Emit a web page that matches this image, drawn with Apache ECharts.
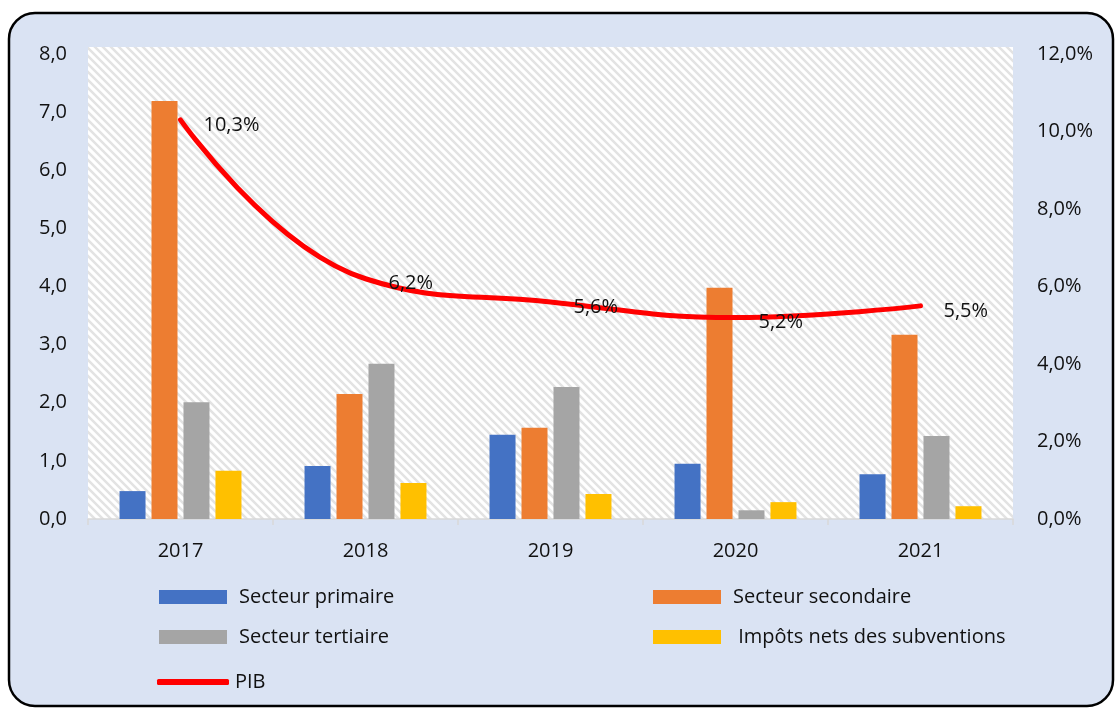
<!DOCTYPE html>
<html>
<head>
<meta charset="utf-8">
<script src="https://cdn.jsdelivr.net/npm/echarts@6/dist/echarts.min.js"></script>
<style>
html,body{margin:0;padding:0;background:#fff;}
#main{width:1116px;height:709px;}
</style>
</head>
<body>
<div id="main"></div>
<script>
var annees = ['2017', '2018', '2019', '2020', '2021'];
var primaire = [0.48, 0.91, 1.45, 0.95, 0.77];
var secondaire = [7.19, 2.15, 1.57, 3.98, 3.17];
var tertiaire = [2.01, 2.67, 2.27, 0.15, 1.43];
var impots = [0.83, 0.62, 0.43, 0.29, 0.22];
var pib = [10.3, 6.2, 5.6, 5.2, 5.5];

var police = '"Open Sans", "Noto Sans", sans-serif';

// motif hachuré du fond de la zone de tracé
var cv = document.createElement('canvas');
cv.width = 8; cv.height = 8;
var cx = cv.getContext('2d');
cx.fillStyle = '#ffffff';
cx.fillRect(0, 0, 8, 8);
cx.strokeStyle = '#e3e3e3';
cx.lineWidth = 2.5;
cx.beginPath();
cx.moveTo(-2, -2); cx.lineTo(10, 10);
cx.moveTo(-6, 2); cx.lineTo(2, 10);
cx.moveTo(6, -2); cx.lineTo(10, 2);
cx.stroke();

function virgule(v, d) {
    return v.toFixed(d).replace('.', ',');
}

function barre(nom, data, couleur) {
    return {
        name: nom,
        type: 'bar',
        data: data,
        barWidth: 26,
        barGap: '23%',
        itemStyle: {color: couleur},
        z: 2
    };
}

var legendes = [
    {data: ['Secteur primaire'], left: 159, top: 587},
    {data: ['Secteur secondaire'], left: 653, top: 587},
    {data: ['Secteur tertiaire'], left: 159, top: 627},
    {data: ['Impôts nets des subventions'], left: 653, top: 627, formatter: ' {name}'},
    {data: [{name: 'PIB', icon: 'roundRect'}], left: 157, top: 672, itemWidth: 72, itemHeight: 6,
        textStyle: {fontSize: 20, color: '#111', fontFamily: police, padding: [6, 0, 0, 1]}}
].map(function (l) {
    return Object.assign({
        itemWidth: 68, itemHeight: 14, itemGap: 12, padding: 0,
        icon: 'rect',
        selectedMode: false,
        textStyle: {fontSize: 20, color: '#111', fontFamily: police, padding: [7, 0, 0, 7]}
    }, l);
});

var option = {
    backgroundColor: '#ffffff',
    animation: false,
    textStyle: {fontFamily: police},
    graphic: [
        {
            type: 'rect',
            z: -10,
            shape: {x: 9, y: 13, width: 1104, height: 693, r: 26},
            style: {fill: '#dae3f3', stroke: '#000', lineWidth: 2.5}
        },
        {
            type: 'rect',
            z: -5,
            shape: {x: 88, y: 47, width: 925, height: 472},
            style: {fill: {image: cv, repeat: 'repeat'}}
        }
    ],
    grid: {left: 88, right: 103, top: 54, bottom: 190},
    legend: legendes,
    xAxis: {
        type: 'category',
        data: annees,
        axisLine: {lineStyle: {color: '#d9d9d9', width: 1.5}},
        axisTick: {show: true, length: 6, lineStyle: {color: '#d9d9d9', width: 1.5}},
        axisLabel: {fontSize: 20, color: '#111', margin: 22, fontFamily: police},
        splitLine: {show: false}
    },
    yAxis: [
        {
            type: 'value',
            min: 0, max: 8, interval: 1,
            axisLabel: {fontSize: 20, color: '#111', margin: 21, fontFamily: police,
                formatter: function (v) { return virgule(v, 1); }},
            axisLine: {show: false},
            axisTick: {show: false},
            splitLine: {show: false}
        },
        {
            type: 'value',
            min: 0, max: 12, interval: 2,
            axisLabel: {fontSize: 20, color: '#111', margin: 24, fontFamily: police,
                formatter: function (v) { return virgule(v, 1) + '%'; }},
            axisLine: {show: false},
            axisTick: {show: false},
            splitLine: {show: false}
        }
    ],
    series: [
        barre('Secteur primaire', primaire, '#4472c4'),
        barre('Secteur secondaire', secondaire, '#ed7d31'),
        barre('Secteur tertiaire', tertiaire, '#a5a5a5'),
        barre('Impôts nets des subventions', impots, '#ffc000'),
        {
            name: 'PIB',
            type: 'line',
            yAxisIndex: 1,
            data: pib,
            smooth: 0.45,
            symbol: 'circle',
            symbolSize: 2,
            showSymbol: true,
            lineStyle: {color: '#ff0000', width: 5, cap: 'round'},
            itemStyle: {color: '#ff0000'},
            z: 3,
            label: {
                show: true,
                position: 'right',
                distance: 22,
                offset: [0, 5],
                fontSize: 20,
                color: '#111',
                fontFamily: police,
                formatter: function (p) { return virgule(p.value, 1) + '%'; }
            }
        }
    ]
};

var chart = echarts.init(document.getElementById('main'), null, {renderer: 'canvas'});
chart.setOption(option);
</script>
</body>
</html>
